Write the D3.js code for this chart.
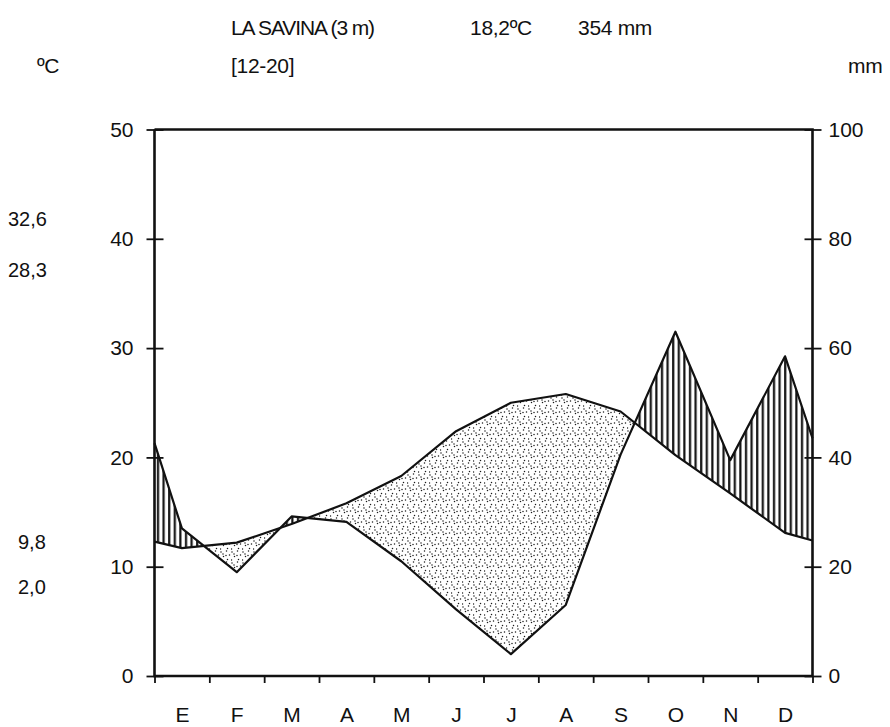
<!DOCTYPE html>
<html><head><meta charset="utf-8">
<script src="https://cdn.jsdelivr.net/npm/d3@7"></script>
<style>
body{margin:0;background:#fff}
text{font-family:"Liberation Sans",Arial,Helvetica,sans-serif;fill:#111}
</style>
</head><body>
<svg id="chart" width="890" height="727"></svg>
<script>
// ---- data ----
const months = ["E","F","M","A","M","J","J","A","S","O","N","D"];
const temperature = [11.7, 12.2, 13.9, 15.8, 18.3, 22.4, 25.0, 25.8, 24.2, 20.2, 16.7, 13.1];
const precipitation = [27, 19, 29.2, 28.2, 21, 12.2, 4, 13, 40.5, 63, 39.5, 58.5];
const tempEdges = [12.3, 12.4];      // values drawn at the Jan start / Dec end edges
const precipEdges = [42.6, 43.5];
const tempTicks = [0, 10, 20, 30, 40, 50];
const precipTicks = [0, 20, 40, 60, 80, 100];
const titleTexts = ["LA SAVINA (3 m)", "18,2ºC", "354 mm"];
const subTexts = ["ºC", "[12-20]", "mm"];
const sideValues = ["32,6", "28,3", "9,8", "2,0"];

// ---- layout ----
const svg = d3.select("#chart");
const L = 154.5, R = 812.5, T = 129.5, B = 676;
const x = d3.scaleLinear().domain([0, 12]).range([L, R]);
const yT = d3.scaleLinear().domain([0, 50]).range([B, T]);
const yP = d3.scaleLinear().domain([0, 100]).range([B, T]);

const tPts = [[0, tempEdges[0]], ...temperature.map((v, i) => [i + 0.5, v]), [12, tempEdges[1]]];
const pPts = [[0, precipEdges[0]], ...precipitation.map((v, i) => [i + 0.5, v]), [12, precipEdges[1]]];

const defs = svg.append("defs");
// vertical hatch pattern
const hp = defs.append("pattern").attr("id", "hatch").attr("patternUnits", "userSpaceOnUse")
  .attr("width", 5.6).attr("height", 10);
hp.append("line").attr("x1", 1.2).attr("x2", 1.2).attr("y1", 0).attr("y2", 10)
  .attr("stroke", "#111").attr("stroke-width", 2.2);
// stipple pattern
const dp = defs.append("pattern").attr("id", "dots").attr("patternUnits", "userSpaceOnUse")
  .attr("width", 11).attr("height", 11);
[[1, 2], [6.5, 1], [9.5, 5], [3.5, 6.5], [7.5, 9.5], [0.5, 10], [6, 5.5], [3, 4]].forEach(([a, b]) =>
  dp.append("circle").attr("cx", a).attr("cy", b).attr("r", 0.75).attr("fill", "#1a1a1a"));

const belowArea = (yScale) => d3.area().x(d => x(d[0])).y0(B).y1(d => yScale(d[1]));
const aboveArea = (yScale) => d3.area().x(d => x(d[0])).y0(d => yScale(d[1])).y1(T);

defs.append("clipPath").attr("id", "belowP").append("path").attr("d", belowArea(yP)(pPts));
defs.append("clipPath").attr("id", "belowT").append("path").attr("d", belowArea(yT)(tPts));

// humid period: precipitation above temperature
svg.append("path").attr("d", aboveArea(yT)(tPts)).attr("fill", "url(#hatch)").attr("clip-path", "url(#belowP)");
// dry period: temperature above precipitation
svg.append("path").attr("d", aboveArea(yP)(pPts)).attr("fill", "url(#dots)").attr("clip-path", "url(#belowT)");

const line = (yScale) => d3.line().x(d => x(d[0])).y(d => yScale(d[1]));
svg.append("path").attr("d", line(yT)(tPts)).attr("fill", "none").attr("stroke", "#111")
  .attr("stroke-width", 2.2).attr("stroke-linejoin", "round");
svg.append("path").attr("d", line(yP)(pPts)).attr("fill", "none").attr("stroke", "#111")
  .attr("stroke-width", 2.2).attr("stroke-linejoin", "round");

// frame
const frame = svg.append("g").attr("stroke", "#111").attr("stroke-width", 2.6).attr("fill", "none");
frame.append("path").attr("d", `M${L},${T}V${B}H${R}V${T}H${L}`);

// left axis (temperature)
const ax = svg.append("g").attr("transform", `translate(${L},0)`)
  .call(d3.axisLeft(yT).tickValues(tempTicks).tickSize(8).tickPadding(13));
ax.select(".domain").remove();
ax.selectAll(".tick line").attr("x1", 9).attr("x2", -8).attr("stroke", "#111").attr("stroke-width", 1.8);
ax.selectAll(".tick text").attr("font-size", 21).attr("font-family", null);

// right axis (precipitation)
const ar = svg.append("g").attr("transform", `translate(${R},0)`)
  .call(d3.axisRight(yP).tickValues(precipTicks).tickSize(8).tickPadding(8));
ar.select(".domain").remove();
ar.selectAll(".tick line").attr("x1", -8).attr("x2", 9).attr("stroke", "#111").attr("stroke-width", 1.8);
ar.selectAll(".tick text").attr("font-size", 21).attr("font-family", null);

// bottom axis: month boundaries + labels at centres
const ab = svg.append("g").attr("transform", `translate(0,${B})`)
  .call(d3.axisBottom(x).tickValues(d3.range(0, 13)).tickSize(7).tickFormat(""));
ab.select(".domain").remove();
ab.selectAll(".tick line").attr("stroke", "#111").attr("stroke-width", 1.8);
const am = svg.append("g").attr("transform", `translate(0,${B})`)
  .call(d3.axisBottom(x).tickValues(months.map((m, i) => i + 0.5)).tickSize(0).tickPadding(31)
    .tickFormat((d, i) => months[i]));
am.select(".domain").remove();
am.selectAll(".tick text").attr("font-size", 21).attr("font-family", null);

// header texts
const titleX = [231, 470, 578];
titleTexts.forEach((t, i) => svg.append("text").attr("x", titleX[i]).attr("y", 35).attr("font-size", 21)
  .attr("letter-spacing", i === 0 ? -1.1 : -0.3).text(t));
const subX = [37, 231, 848];
subTexts.forEach((t, i) => svg.append("text").attr("x", subX[i]).attr("y", 73).attr("font-size", 21)
  .attr("letter-spacing", -0.3).text(t));

// side values
const sidePos = [[8, 226], [8, 277], [18, 549], [18, 594]];
sideValues.forEach((t, i) => svg.append("text").attr("x", sidePos[i][0]).attr("y", sidePos[i][1])
  .attr("font-size", 20).text(t));
</script>
</body></html>
